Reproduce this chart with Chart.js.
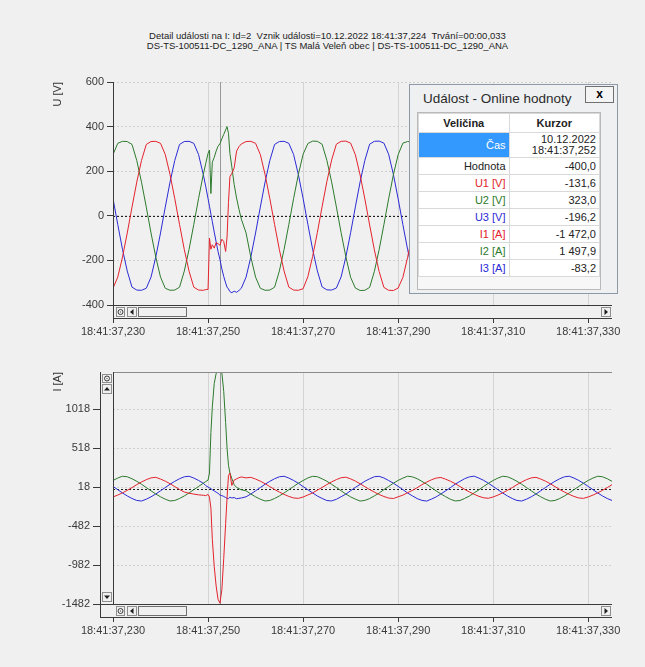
<!DOCTYPE html>
<html lang="cs">
<head>
    <meta charset="UTF-8">
    <title>Detail události</title>
    <script src="https://cdn.jsdelivr.net/npm/chart.js@4.4.0/dist/chart.umd.min.js"></script>
    <style>
        * { margin: 0; padding: 0; box-sizing: border-box; }

        body {
            width: 645px;
            height: 667px;
            background: #f0f0f0;
            font-family: 'Liberation Sans', Arial, sans-serif;
            position: relative;
            overflow: hidden;
        }

        .head {
            position: absolute;
            left: 0;
            top: 31px;
            width: 655px;
            text-align: center;
            font-size: 9.5px;
            line-height: 10px;
            color: #222;
        }

        .pane { position: absolute; left: 0; width: 645px; }

        .popup {
            position: absolute;
            left: 409px;
            top: 84px;
            width: 209px;
            height: 210px;
            background: #eef0f2;
            border: 1px solid #8d99a6;
            z-index: 5;
        }

        .popup .cap {
            position: absolute;
            left: 13px;
            top: 6px;
            font-size: 13.5px;
            color: #2b2b2b;
        }

        .popup .close {
            position: absolute;
            left: 175px;
            top: 1px;
            width: 29px;
            height: 17px;
            border: 1px solid #707070;
            background: #f4f4f4;
            font-weight: bold;
            font-size: 12px;
            line-height: 14px;
            text-align: center;
        }

        .grid {
            position: absolute;
            left: 7px;
            top: 27px;
            width: 184px;
            height: 178px;
            background: #f7f7f7;
            border: 1px solid #b9b9b9;
        }

        table {
            border-collapse: collapse;
            width: 182px;
            table-layout: fixed;
            font-size: 11px;
            background: #fff;
            color: #222;
        }

        td, th {
            border: 1px solid #d9d9d9;
            height: 17px;
            padding: 0 3px;
            text-align: right;
            white-space: nowrap;
        }

        th { height: 19px; text-align: center; font-weight: bold; }
        td.sel { background: #3399ff; color: #fff; }
        tr.two td { height: 25px; line-height: 11px; }
    </style>
</head>
<body>
    <div class="head">
        <div>Detail události na I: Id=2&nbsp; Vznik události=10.12.2022 18:41:37,224&nbsp; Trvání=00:00,033</div>
        <div>DS-TS-100511-DC_1290_ANA | TS Malá Veleň obec | DS-TS-100511-DC_1290_ANA</div>
    </div>

    <div class="pane" style="top:0;height:345px"><canvas id="uChart" width="645" height="345"></canvas></div>
    <div class="pane" style="top:345px;height:322px"><canvas id="iChart" width="645" height="322"></canvas></div>

    <div class="popup">
        <div class="cap">Událost - Online hodnoty</div>
        <div class="close">x</div>
        <div class="grid"><table id="valTable"></table></div>
    </div>

    <script>
        // čas vzorku (ms po 18:41:37)
        const timeMs = [
            230, 231, 232, 233, 234, 235, 236, 237, 238, 239,
            240, 241, 242, 243, 244, 245, 246, 247, 248, 249,
            249.5, 250, 250.3, 250.6, 250.9, 251.3, 251.7, 252.1, 252.5, 252.9,
            253.3, 253.7, 254, 254.3, 254.6, 255, 255.5, 256, 256.5, 257,
            258, 259, 260, 261, 262, 263, 264, 265, 266, 267, 268, 269,
            270, 271, 272, 273, 274, 275, 276, 277, 278, 279,
            280, 281, 282, 283, 284, 285, 286, 287, 288, 289,
            290, 291, 292, 293, 294, 295, 296, 297, 298, 299,
            300, 301, 302, 303, 304, 305, 306, 307, 308, 309,
            310, 311, 312, 313, 314, 315, 316, 317, 318, 319,
            320, 321, 322, 323, 324, 325, 326, 327, 328, 329,
            330, 331, 332, 333, 334, 335
        ];
        const timeTicks = [230, 250, 270, 290, 310, 330];
        const timePrefix = '18:41:37,';
        const cursorMs = 252.5;

        const uTicks = [-400, -200, 0, 200, 400, 600];
        const iTicks = [-1482, -982, -482, 18, 518, 1018];

        // napětí [V]
        const u1 = [
            -325, -275, -185, -77, 39, 151, 248, 320, 333, 334,
            325, 275, 185, 77, -39, -151, -248, -320, -333, -334,
            -331, -330, -100, -150, -130, -145, -120, -125, -132, -105,
            -115, -160, -95, 60, 175, 190, 215, 290, 310, 322,
            333, 334, 325, 275, 185, 77, -39, -151, -248, -320, -333, -334,
            -327, -273, -183, -75, 41, 153, 250, 321, 334, 335,
            326, 274, 183, 75, -41, -153, -250, -321, -334, -335,
            -324, -276, -186, -78, 38, 150, 247, 319, 332, 334,
            324, 276, 186, 78, -38, -150, -247, -319, -332, -333,
            -325, -275, -185, -77, 39, 151, 248, 320, 333, 334,
            325, 275, 185, 77, -39, -151, -248, -320, -333, -334,
            -326, -274, -184, -76, 40, 152
        ];
        const u2 = [
            275, 325, 334, 333, 320, 248, 151, 39, -77, -185,
            -275, -325, -334, -333, -320, -248, -151, -39, 77, 185,
            233, 280, 295, 100, 240, 262, 290, 312, 323, 345,
            365, 385, 400, 370, 280, 220, 140, 80, 30, -15,
            -77, -185, -275, -325, -334, -333, -320, -248, -151, -39, 77, 185,
            276, 324, 335, 334, 321, 249, 152, 40, -76, -184,
            -276, -324, -335, -334, -321, -249, -152, -40, 76, 184,
            274, 326, 333, 332, 319, 247, 150, 38, -78, -186,
            -274, -326, -333, -332, -319, -247, -150, -38, 78, 186,
            275, 325, 334, 333, 320, 248, 151, 39, -77, -185,
            -275, -325, -334, -333, -320, -248, -151, -39, 77, 185,
            275, 325, 334, 333, 320, 248
        ];
        const u3 = [
            77, -39, -151, -248, -320, -333, -334, -325, -275, -185,
            -77, 39, 151, 248, 320, 333, 334, 325, 275, 185,
            133, 77, 43, 8, -26, -73, -117, -160, -196, -238,
            -272, -301, -320, -328, -340, -345, -338, -343, -335, -325,
            -275, -185, -77, 39, 151, 248, 320, 333, 334, 325, 275, 185,
            78, -38, -150, -247, -319, -332, -333, -324, -274, -184,
            -76, 40, 152, 249, 321, 334, 335, 326, 276, 186,
            76, -40, -152, -249, -321, -334, -335, -326, -276, -186,
            -78, 38, 150, 247, 319, 332, 333, 324, 274, 184,
            77, -39, -151, -248, -320, -333, -334, -325, -275, -185,
            -77, 39, 151, 248, 320, 333, 334, 325, 275, 185,
            77, -39, -151, -248, -320, -333
        ];

        // proudy [A]
        const i1 = [
            -107, -83, -54, -22, 13, 51, 85, 115, 138, 145,
            123, 96, 63, 26, -11, -44, -60, -70, -80, -85,
            -90, -75, -110, -250, -650, -1000, -1250, -1420, -1472, -1300,
            -900, -450, -120, 170, 200, 40, 110, 125, 140, 150,
            138, 145, 123, 96, 63, 26, -11, -44, -74, -100, -120, -125,
            -108, -82, -55, -20, 15, 52, 86, 116, 140, 147,
            125, 97, 62, 25, -12, -45, -75, -101, -121, -127,
            -105, -84, -52, -23, 12, 50, 84, 113, 136, 143,
            121, 95, 64, 27, -10, -43, -73, -99, -118, -124,
            -107, -83, -54, -22, 13, 51, 85, 115, 138, 145,
            123, 96, 63, 26, -11, -44, -74, -100, -120, -125,
            -107, -83, -54, -22, 13, 51
        ];
        const i2 = [
            105, 136, 159, 152, 127, 94, 56, 14, -28, -69,
            -105, -136, -159, -152, -127, -94, -56, -14, 28, 69,
            90, 110, 200, 720, 1050, 1350, 1480, 1498, 1498, 1490,
            1250, 850, 520, 300, 200, 130, 50, 15, 0, -15,
            -28, -69, -105, -136, -159, -152, -127, -94, -56, -14, 28, 69,
            104, 137, 158, 153, 126, 95, 55, 15, -27, -70,
            -106, -135, -160, -151, -128, -93, -57, -13, 27, 70,
            106, 135, 160, 151, 128, 93, 57, 13, -29, -68,
            -104, -137, -158, -153, -126, -95, -55, -15, 29, 68,
            105, 136, 159, 152, 127, 94, 56, 14, -28, -69,
            -105, -136, -159, -152, -127, -94, -56, -14, 28, 69,
            105, 136, 159, 152, 127, 94
        ];
        const i3 = [
            28, -14, -56, -94, -127, -152, -159, -136, -105, -69,
            -28, 14, 56, 94, 127, 152, 159, 136, 105, 69,
            40, 20, 10, 0, -15, -30, -45, -60, -83, -90,
            -100, -115, -125, -128, -110, -120, -115, -130, -125, -120,
            -105, -69, -28, 14, 56, 94, 127, 152, 159, 136, 105, 69,
            27, -15, -55, -95, -126, -153, -158, -137, -104, -70,
            -27, 15, 55, 95, 126, 153, 158, 137, 104, 70,
            29, -13, -57, -93, -128, -151, -160, -135, -106, -68,
            -29, 13, 57, 93, 128, 151, 160, 135, 106, 68,
            28, -14, -56, -94, -127, -152, -159, -136, -105, -69,
            -28, 14, 56, 94, 127, 152, 159, 136, 105, 69,
            28, -14, -56, -94, -127, -152
        ];

        // okno "Událost - Online hodnoty"
        const tableRows = [
            ['Hodnota', '-400,0', '#222'],
            ['U1 [V]', '-131,6', '#e4222c'],
            ['U2 [V]', '323,0', '#2c7a2c'],
            ['U3 [V]', '-196,2', '#2a2ad6'],
            ['I1 [A]', '-1 472,0', '#e4222c'],
            ['I2 [A]', '1 497,9', '#2c7a2c'],
            ['I3 [A]', '-83,2', '#2a2ad6']
        ];

        let html = '<tr><th>Veličina</th><th>Kurzor</th></tr>' +
            '<tr class="two"><td class="sel">Čas</td><td>10.12.2022<br>18:41:37,252</td></tr>';
        tableRows.forEach(r => {
            html += '<tr><td style="color:' + r[2] + '">' + r[0] + '</td><td>' + r[1] + '</td></tr>';
        });
        document.getElementById('valTable').innerHTML = html;

        Chart.defaults.font.family = "'Liberation Sans', Arial, sans-serif";
        Chart.defaults.font.size = 11;
        Chart.defaults.color = '#333';

        const RED = '#e4222c', GREEN = '#2c7a2c', BLUE = '#2a2ad6';

        function series(values, color) {
            return {
                data: values.map((v, i) => ({ x: timeMs[i], y: v })),
                borderColor: color,
                borderWidth: 1,
                pointRadius: 0,
                tension: 0
            };
        }

        function hLine(ctx, x1, x2, y, color) {
            ctx.strokeStyle = color;
            ctx.beginPath(); ctx.moveTo(x1, y + 0.5); ctx.lineTo(x2, y + 0.5); ctx.stroke();
        }
        function vLine(ctx, x, y1, y2, color) {
            ctx.strokeStyle = color;
            ctx.beginPath(); ctx.moveTo(x + 0.5, y1); ctx.lineTo(x + 0.5, y2); ctx.stroke();
        }
        function button(ctx, x, y, w, h) {
            ctx.fillStyle = '#f0f0f0';
            ctx.fillRect(x, y, w, h);
            ctx.strokeStyle = '#8e8e8e';
            ctx.strokeRect(x + 0.5, y + 0.5, w - 1, h - 1);
        }
        function ring(ctx, cx, cy) {
            ctx.strokeStyle = '#3a3a3a';
            ctx.beginPath(); ctx.arc(cx, cy, 2.5, 0, Math.PI * 2); ctx.stroke();
            ctx.fillStyle = '#3a3a3a';
            ctx.fillRect(cx - 0.5, cy - 0.5, 1, 1);
        }
        function tri(ctx, cx, cy, dir) {
            ctx.fillStyle = '#1e1e1e';
            ctx.beginPath();
            if (dir === 'l') { ctx.moveTo(cx - 2, cy); ctx.lineTo(cx + 1.5, cy - 3); ctx.lineTo(cx + 1.5, cy + 3); }
            if (dir === 'r') { ctx.moveTo(cx + 2, cy); ctx.lineTo(cx - 1.5, cy - 3); ctx.lineTo(cx - 1.5, cy + 3); }
            if (dir === 'u') { ctx.moveTo(cx, cy - 2); ctx.lineTo(cx - 3, cy + 1.5); ctx.lineTo(cx + 3, cy + 1.5); }
            if (dir === 'd') { ctx.moveTo(cx, cy + 2); ctx.lineTo(cx - 3, cy - 1.5); ctx.lineTo(cx + 3, cy - 1.5); }
            ctx.closePath(); ctx.fill();
        }

        // nulová čára, kurzor, posuvníky
        const frame = {
            id: 'frame',
            beforeDatasetsDraw(chart) {
                const { ctx, chartArea: a, scales: { x, y } } = chart;
                ctx.save();
                ctx.lineWidth = 1;
                const xc = Math.round(x.getPixelForValue(cursorMs));
                vLine(ctx, xc, a.top, a.bottom, '#999');
                ctx.setLineDash([2, 2]);
                hLine(ctx, a.left, a.right, Math.round(y.getPixelForValue(0)), '#1e1e1e');
                ctx.restore();
            },
            afterDraw(chart, args, opts) {
                const { ctx, chartArea: a } = chart;
                ctx.save();
                ctx.lineWidth = 1;
                if (opts.topLine) hLine(ctx, a.left, a.right, a.top, '#8a8a8a');
                vLine(ctx, a.left, a.top, a.bottom, '#3a3a3a');

                // vodorovný posuvník
                const sy = Math.round(a.bottom), sh = 13, sx = opts.barLeft;
                ctx.fillStyle = '#f0f0f0';
                ctx.fillRect(sx, sy, a.right - sx, sh);
                hLine(ctx, sx, a.right, sy, '#3a3a3a');
                hLine(ctx, sx, a.right, sy + sh, '#3a3a3a');
                vLine(ctx, sx, sy, sy + sh, '#3a3a3a');
                button(ctx, a.left + 3, sy + 2, 9, 10); ring(ctx, a.left + 7.5, sy + 7);
                button(ctx, a.left + 14, sy + 2, 10, 10); tri(ctx, a.left + 19, sy + 7, 'l');
                ctx.strokeStyle = '#6e6e6e';
                ctx.strokeRect(a.left + 25.5, sy + 2.5, 48, 9);
                button(ctx, a.right - 11, sy + 2, 10, 10); tri(ctx, a.right - 6, sy + 7, 'r');

                // svislý posuvník
                if (opts.vbar) {
                    const vx = a.left - 13;
                    ctx.fillStyle = '#f0f0f0';
                    ctx.fillRect(vx, a.top, 13, a.bottom - a.top);
                    vLine(ctx, vx, a.top, a.bottom + sh, '#3a3a3a');
                    button(ctx, vx + 2, a.top + 2, 10, 9); ring(ctx, vx + 7, a.top + 6.5);
                    button(ctx, vx + 2, a.top + 12, 10, 10); tri(ctx, vx + 7, a.top + 17, 'u');
                    button(ctx, vx + 2, a.bottom - 12, 10, 10); tri(ctx, vx + 7, a.bottom - 7, 'd');
                    vLine(ctx, a.left, a.top, a.bottom, '#3a3a3a');
                }
                ctx.restore();
            }
        };

        function makeChart(id, cfg) {
            return new Chart(document.getElementById(id), {
                type: 'line',
                data: { datasets: cfg.datasets },
                options: {
                    responsive: false,
                    animation: false,
                    devicePixelRatio: 1,
                    layout: { padding: { top: cfg.padTop, right: 33, left: 0, bottom: 0 } },
                    plugins: {
                        legend: { display: false },
                        tooltip: { enabled: false },
                        frame: { barLeft: cfg.barLeft, vbar: cfg.vbar, topLine: cfg.vbar }
                    },
                    scales: {
                        x: {
                            type: 'linear',
                            min: 230,
                            max: 335,
                            afterBuildTicks: ax => { ax.ticks = timeTicks.map(v => ({ value: v })); },
                            afterFit: ax => { ax.height = cfg.xHeight; },
                            ticks: { callback: v => timePrefix + v, maxRotation: 0, autoSkip: false, padding: 2, color: '#3a3a3a' },
                            grid: { color: '#d4d4d4', tickColor: '#3a3a3a', tickLength: 18 },
                            border: { display: false }
                        },
                        y: {
                            min: cfg.min,
                            max: cfg.max,
                            afterBuildTicks: ax => { ax.ticks = cfg.ticks.map(v => ({ value: v })); },
                            afterFit: ax => { ax.width = 113; },
                            ticks: { callback: v => String(v), padding: 3, color: '#3a3a3a' },
                            grid: { color: '#cfcfcf', tickColor: '#3a3a3a', tickLength: cfg.tickLength },
                            border: { display: false, dash: [2, 2] },
                            title: {
                                display: true,
                                text: cfg.title,
                                align: 'end',
                                color: '#333',
                                font: { size: 11 },
                                padding: { top: 51, bottom: 0 }
                            }
                        }
                    }
                },
                plugins: [frame]
            });
        }

        makeChart('uChart', {
            datasets: [series(u1, RED), series(u2, GREEN), series(u3, BLUE)],
            min: -400, max: 600, ticks: uTicks, title: 'U [V]',
            padTop: 82, xHeight: 40, tickLength: 6, barLeft: 113, vbar: false
        });

        makeChart('iChart', {
            datasets: [series(i1, RED), series(i2, GREEN), series(i3, BLUE)],
            min: -1482, max: 1498, ticks: iTicks, title: 'I [A]',
            padTop: 27, xHeight: 63, tickLength: 20, barLeft: 100, vbar: true
        });
    </script>
</body>
</html>
